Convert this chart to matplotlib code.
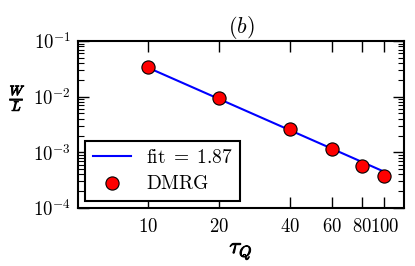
import numpy as np
import matplotlib
matplotlib.use("Agg")
import matplotlib.pyplot as plt
import matplotlib.patheffects as pe
from matplotlib.ticker import FixedLocator, NullLocator, FixedFormatter

plt.rcParams["mathtext.fontset"] = "cm"
plt.rcParams["font.family"] = "serif"
plt.rcParams["font.serif"] = ["DejaVu Serif"]

# DMRG data
tau_q = [10, 20, 40, 60, 80, 100]
w_over_l = [0.0345, 0.0094, 0.00258, 0.00113, 0.00058, 0.000375]
fit_exp = 1.87
fit_amp = 10 ** 0.39
xticks = [10, 20, 40, 60, 80, 100]

fig = plt.figure(figsize=(4.15, 2.66), dpi=100)
ax = fig.add_axes([78 / 415, 1 - 208 / 266, (404 - 78) / 415, (208 - 41) / 266])

xf = np.array([tau_q[0], tau_q[-1]], dtype=float)
ax.plot(xf, fit_amp * xf ** (-fit_exp), color="blue", lw=1.5,
        label=r"$\mathrm{fit}\;=\;1.87$")
ax.plot(tau_q, w_over_l, "o", color="red", mec="black", mew=0.8, ms=9.5,
        label=r"$\mathrm{DMRG}$")

ax.set_xscale("log")
ax.set_yscale("log")
ax.set_xlim(5.05, 121)
ax.set_ylim(1e-4, 1e-1)
ax.xaxis.set_major_locator(FixedLocator(xticks))
ax.xaxis.set_major_formatter(FixedFormatter([f"${t}$" for t in xticks]))
ax.xaxis.set_minor_locator(NullLocator())
ax.set_yticks([1e-4, 1e-3, 1e-2, 1e-1])
ax.set_yticklabels([r"$10^{-4}$", r"$10^{-3}$", r"$10^{-2}$", r"$10^{-1}$"])

ax.tick_params(which="both", direction="in", top=True, right=True, labelsize=13.5)
ax.tick_params(which="major", length=8, width=1)
ax.tick_params(which="minor", length=4, width=0.8)
ax.tick_params(axis="x", pad=7)
ax.tick_params(axis="y", pad=5)
for s in ax.spines.values():
    s.set_linewidth(1.5)

bold = [pe.withStroke(linewidth=0.7, foreground="black")]
ax.set_xlabel(r"$\tau_Q$", fontsize=16, labelpad=3, path_effects=bold)
ax.set_ylabel(r"$\frac{W}{L}$", fontsize=14, rotation=0, va="center", path_effects=bold)
ax.yaxis.set_label_coords(-0.185, 0.66)
ax.set_title(r"$(b)$", fontsize=16, pad=6)

leg = ax.legend(loc="lower left", fontsize=14, fancybox=False, framealpha=1,
                edgecolor="black", numpoints=1, handlelength=2.0,
                handletextpad=0.75, borderaxespad=0.35, borderpad=0.4,
                labelspacing=0.45)
leg.get_frame().set_linewidth(1.5)

fig.savefig("out.png", dpi=100)
